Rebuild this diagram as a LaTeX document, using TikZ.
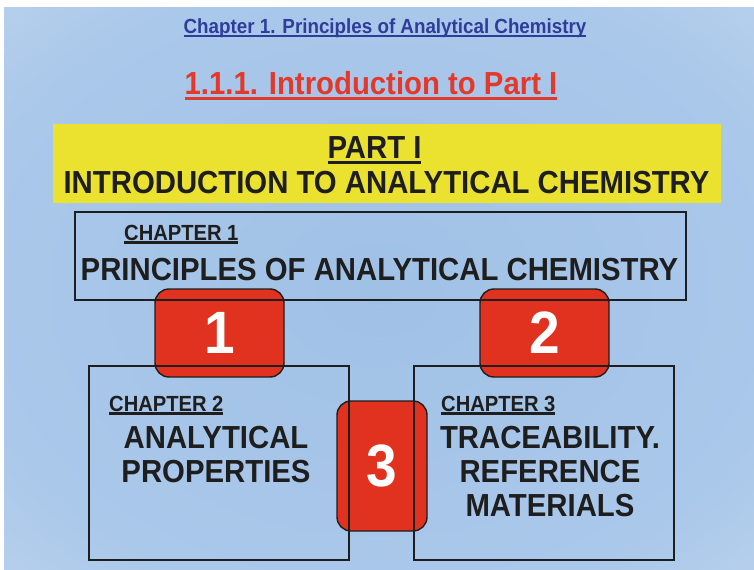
\documentclass[tikz,border=0pt]{standalone}
\usepackage{fontspec}
\setmainfont{Liberation Sans}[FakeStretch=0.92]
\usetikzlibrary{positioning}

\definecolor{bgmid}{HTML}{A0C1E6}
\definecolor{bginner}{HTML}{AAC8EA}
\definecolor{bgedge}{HTML}{CADAF0}
\definecolor{bgcorner}{HTML}{F3E3F3}
\definecolor{titleblue}{HTML}{2E3D9C}
\definecolor{headred}{HTML}{E3392B}
\definecolor{numred}{HTML}{E0321F}
\definecolor{partyellow}{HTML}{EBE12F}
\definecolor{linegray}{HTML}{1E1E1E}

\pgfdeclareradialshading{bgshade}{\pgfpoint{0bp}{0bp}}{%
  color(0bp)=(bgmid); color(28bp)=(bginner); color(48bp)=(bgedge); color(72bp)=(bgcorner)}

% underline with a bar of given thickness
\newcommand{\ulbar}[2][2bp]{\leavevmode\setbox0\hbox{#2}\rlap{\rule[-0.17em]{\wd0}{#1}}\box0}

\begin{document}
\begin{tikzpicture}[
	x=1bp, y=-1bp,
	frame/.style={draw=linegray, line width=1.4bp},
	numbox/.style={draw=linegray, line width=1.4bp, fill=numred, rounded corners=14bp,
		text=white, font=\fontsize{60}{60}\selectfont\bfseries},
	big/.style={anchor=base, align=center, inner sep=0pt, text=linegray,
		font=\fontsize{32}{34}\selectfont\bfseries},
	chaptag/.style={anchor=base west, inner sep=0pt, text=linegray,
		font=\fontsize{22}{22}\selectfont\bfseries}
]
\useasboundingbox (0,0) rectangle (754,570);
\shade[shading=bgshade] (4,8) rectangle (754,570);

% Headings
\node[anchor=base, inner sep=0pt, text=titleblue, font=\fontsize{20.5}{20.5}\selectfont\bfseries]
	(title) at (385,34) {\ulbar{Chapter 1. Principles of Analytical Chemistry}};
\node[anchor=base, inner sep=0pt, text=headred, font=\fontsize{32}{32}\selectfont\bfseries]
	(intro) at (371,95) {\ulbar[3.5bp]{1.1.1. Introduction to Part I}};

% Part box
\node[fill=partyellow, minimum width=668bp, minimum height=79bp] (part) at (387,163.5) {};
\node[big] (partname) at (374.5,159) {\ulbar[3bp]{PART I}};
\node[big] (parttitle) at (386.5,194) {INTRODUCTION TO ANALYTICAL CHEMISTRY};

% Number boxes
\node[numbox, minimum width=129bp, minimum height=88bp] (one) at (219.5,333) {1};
\node[numbox, minimum width=129bp, minimum height=88bp] (two) at (544.5,333) {2};
\node[numbox, minimum width=90bp, minimum height=130bp] (three) at (382,466) {3};

% Chapter frames
\node[frame, minimum width=611bp, minimum height=88bp] (chapA) at (380.5,256) {};
\node[frame, minimum width=260bp, minimum height=194bp] (chapB) at (219,463) {};
\node[frame, minimum width=260bp, minimum height=194bp] (chapC) at (544,463) {};

% Chapter texts
\node[chaptag] (tagA) at (124,240) {\ulbar[2.5bp]{CHAPTER 1}};
\node[big] (nameA) at (379.5,280) {PRINCIPLES OF ANALYTICAL CHEMISTRY};
\node[chaptag] (tagB) at (109,411) {\ulbar[2.5bp]{CHAPTER 2}};
\node[big] (nameB) at (216,482) {ANALYTICAL\\PROPERTIES};
\node[chaptag] (tagC) at (441,411) {\ulbar[2.5bp]{CHAPTER 3}};
\node[big] (nameC) at (550,516) {TRACEABILITY.\\REFERENCE\\MATERIALS};

\end{tikzpicture}
\end{document}
